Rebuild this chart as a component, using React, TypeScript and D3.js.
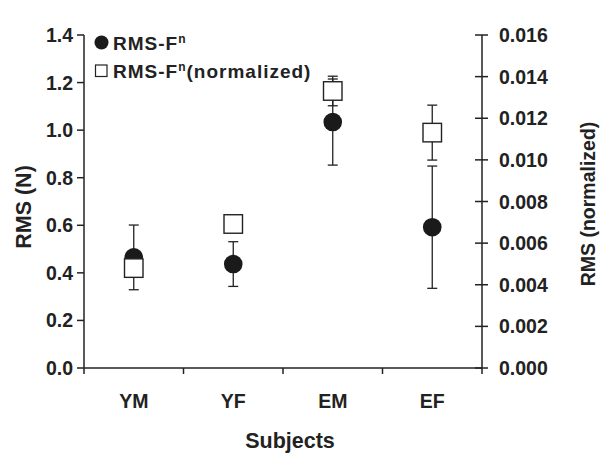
import React from 'react';
import * as d3 from 'd3';

// subjects on the x axis
const subjects = ['YM', 'YF', 'EM', 'EF'];

// RMS-Fn (N), left axis
const rmsN = [0.465, 0.437, 1.034, 0.592];
const rmsNErr = [0.136, 0.094, 0.181, 0.257];

// RMS-Fn normalized, right axis
const rmsNorm = [0.0048, 0.00692, 0.01331, 0.01131];
const rmsNormErr = [0.0003, 0.0003, 0.00071, 0.00132];

const leftTicks = [0, 0.2, 0.4, 0.6, 0.8, 1.0, 1.2, 1.4];
const rightTicks = [0, 0.002, 0.004, 0.006, 0.008, 0.01, 0.012, 0.014, 0.016];

const W = 601;
const H = 457;
const FONT = '"Liberation Sans", Arial, Helvetica, sans-serif';

const App = () => {
  // === scales ===
  const x = d3.scaleBand<string>().domain(subjects).range([84, 482]);
  const yL = d3.scaleLinear().domain([0, 1.4]).range([368, 35]);
  const yR = d3.scaleLinear().domain([0, 0.016]).range([368, 35]);
  const cx = (s: string) => (x(s) ?? 0) + x.bandwidth() / 2;

  const [x0, x1] = x.range();
  const yBottom = yL(0);
  const cap = 5;
  const r = 9.3;
  const sq = 18.5;
  const tickStyle = { fontFamily: FONT, fontWeight: 'bold', fontSize: 19.5, fill: '#222' } as const;

  const errBar = (xc: number, yTop: number, yBot: number, key: string) => (
    <g key={key} stroke="#222" strokeWidth={1.3}>
      <line x1={xc} x2={xc} y1={yTop} y2={yBot} />
      <line x1={xc - cap} x2={xc + cap} y1={yTop} y2={yTop} />
      <line x1={xc - cap} x2={xc + cap} y1={yBot} y2={yBot} />
    </g>
  );

  return (
    <svg width={W} height={H} style={{ position: 'absolute', left: 0, top: 0, background: '#fff' }}>
      <rect width={W} height={H} fill="#fff" />

      {/* left axis */}
      <g stroke="#222" strokeWidth={1.5}>
        <line x1={x0} x2={x0} y1={yL(1.4)} y2={yBottom} />
        {leftTicks.map((t) => (
          <line key={t} x1={x0 - 7} x2={x0} y1={yL(t)} y2={yL(t)} />
        ))}
      </g>
      {leftTicks.map((t) => (
        <text key={t} x={73} y={yL(t) + 7} textAnchor="end" style={tickStyle}>
          {d3.format('.1f')(t)}
        </text>
      ))}

      {/* right axis */}
      <g stroke="#222" strokeWidth={1.5}>
        <line x1={x1} x2={x1} y1={yR(0.016)} y2={yBottom} />
        {rightTicks.map((t) => (
          <line key={t} x1={x1 - 7} x2={x1 + 6} y1={yR(t)} y2={yR(t)} />
        ))}
      </g>
      {rightTicks.map((t) => (
        <text key={t} x={499} y={yR(t) + 7} style={tickStyle}>
          {d3.format('.3f')(t)}
        </text>
      ))}

      {/* bottom axis */}
      <g stroke="#222" strokeWidth={1.5}>
        <line x1={x0} x2={x1} y1={yBottom} y2={yBottom} />
        {[...subjects.map((s) => x(s) ?? 0), x1].map((v, i) => (
          <line key={i} x1={v} x2={v} y1={yBottom} y2={yBottom + 6} />
        ))}
      </g>
      {subjects.map((s) => (
        <text key={s} x={cx(s)} y={408} textAnchor="middle" style={tickStyle}>
          {s}
        </text>
      ))}

      {/* axis titles */}
      <text x={290} y={448} textAnchor="middle"
        style={{ fontFamily: FONT, fontWeight: 'bold', fontSize: 21.5, fill: '#222' }}>
        Subjects
      </text>
      <text transform="translate(31,207) rotate(-90)" textAnchor="middle"
        style={{ fontFamily: FONT, fontWeight: 'bold', fontSize: 21.5, fill: '#222' }}>
        RMS (N)
      </text>
      <text transform="translate(595,204) rotate(-90)" textAnchor="middle"
        style={{ fontFamily: FONT, fontWeight: 'bold', fontSize: 19.5, fill: '#222' }}>
        RMS (normalized)
      </text>

      {/* RMS-Fn circles with error bars */}
      {subjects.map((s, i) =>
        errBar(cx(s), yL(rmsN[i] + rmsNErr[i]), yL(rmsN[i] - rmsNErr[i]), 'ce' + s)
      )}
      {subjects.map((s, i) => (
        <circle key={'c' + s} cx={cx(s)} cy={yL(rmsN[i])} r={r} fill="#1a1a1a" />
      ))}

      {/* normalized squares with error bars */}
      {subjects.map((s, i) =>
        errBar(cx(s), yR(rmsNorm[i] + rmsNormErr[i]), yR(rmsNorm[i] - rmsNormErr[i]), 'se' + s)
      )}
      {subjects.map((s, i) => (
        <rect key={'s' + s} x={cx(s) - sq / 2} y={yR(rmsNorm[i]) - sq / 2} width={sq} height={sq}
          fill="#fff" stroke="#222" strokeWidth={1.4} />
      ))}

      {/* legend */}
      <circle cx={101.5} cy={42.5} r={7} fill="#1a1a1a" />
      <text x={113} y={50} style={{ ...tickStyle, fontSize: 19, letterSpacing: 1 }}>
        RMS-F<tspan dy={-7} fontSize={12}>n</tspan>
      </text>
      <rect x={95.5} y={65} width={11.5} height={11.5} fill="#fff" stroke="#222" strokeWidth={1.2} />
      <text x={113} y={78} style={{ ...tickStyle, fontSize: 19, letterSpacing: 1 }}>
        RMS-F<tspan dy={-7} fontSize={12}>n</tspan>
        <tspan dy={7}>(normalized)</tspan>
      </text>
    </svg>
  );
};

export default App;
